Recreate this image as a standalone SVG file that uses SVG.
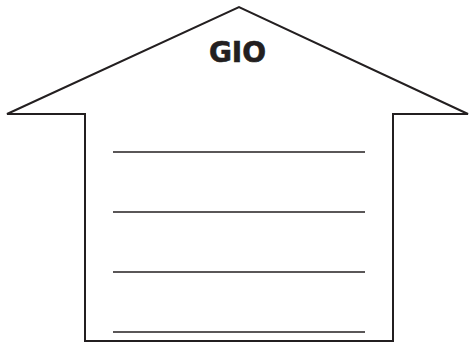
<svg xmlns="http://www.w3.org/2000/svg" width="469" height="343" viewBox="0 0 469 343">
<style>
.outline{fill:#fff;stroke:#231f20;stroke-width:2;stroke-linejoin:miter}
.rule{stroke:#231f20;stroke-width:1.6}
.label{font-family:'DejaVu Sans','Verdana',sans-serif;font-weight:700;font-size:28px;fill:#231f20;stroke:#231f20;stroke-width:0.6}
</style>
<rect width="469" height="343" fill="#fff"/>
<g id="house">
<path class="outline" d="M85 341 L85 114 L7 114 L239 7 L468 114 L393 114 L393 341 Z"/>
<text class="label" x="237.5" y="62" text-anchor="middle">GIO</text>
</g>
<g id="lines">
<line class="rule" x1="113" y1="152" x2="365" y2="152"/>
<line class="rule" x1="113" y1="212" x2="365" y2="212"/>
<line class="rule" x1="113" y1="272" x2="365" y2="272"/>
<line class="rule" x1="113" y1="332" x2="365" y2="332"/>
</g>
</svg>
